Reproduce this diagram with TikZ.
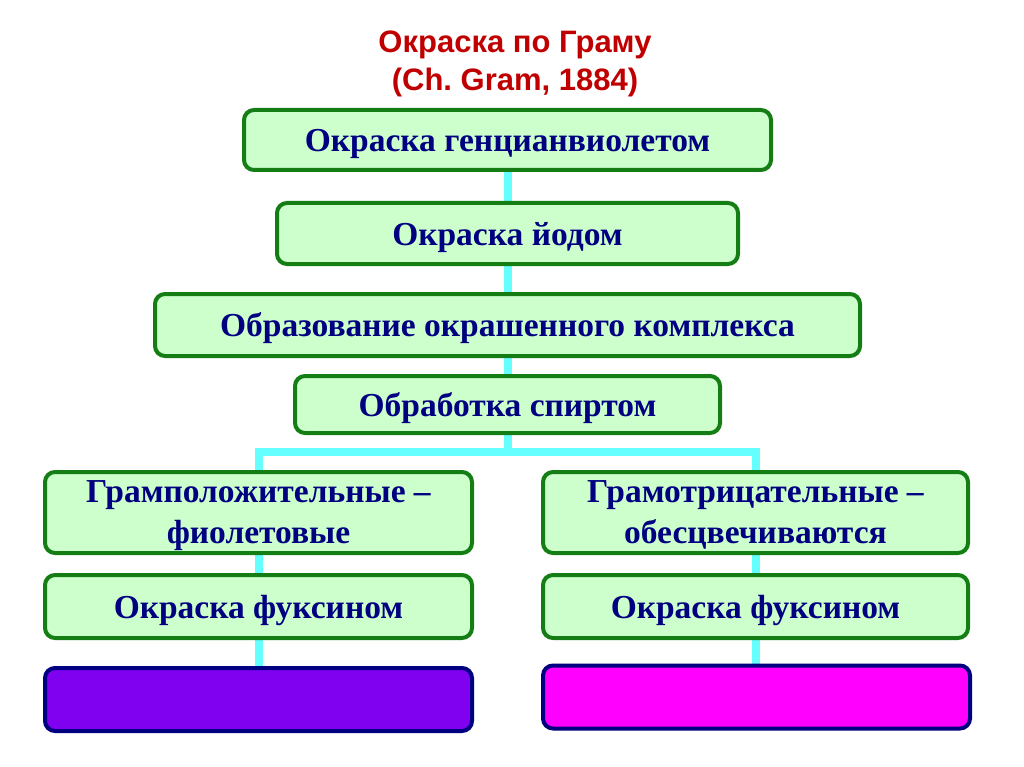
\documentclass[tikz,border=0pt]{standalone}
\usepackage{fontspec}
\setmainfont{Liberation Serif}
\newfontfamily\titlefont{Liberation Sans}
\usetikzlibrary{positioning,backgrounds}
\frenchspacing
\definecolor{boxgreen}{RGB}{20,125,20}
\definecolor{boxfill}{RGB}{204,255,204}
\definecolor{textnavy}{RGB}{0,0,128}
\definecolor{titlered}{RGB}{192,0,0}
\definecolor{linkcyan}{RGB}{102,255,255}
\definecolor{violetfill}{RGB}{128,0,240}
\definecolor{magentafill}{RGB}{255,0,255}
\tikzset{
  stage/.style={draw=boxgreen,line width=4pt,fill=boxfill,rounded corners=10pt,
    text=textnavy,font=\fontsize{33.5}{41}\selectfont\bfseries,align=center,
    inner sep=0pt,text depth=0pt},
  result/.style={draw=textnavy,line width=4pt,rounded corners=10pt,inner sep=0pt,
    minimum width=427pt,minimum height=63pt},
  link/.style={linkcyan,line width=8pt}
}
\begin{document}
\begin{tikzpicture}[x=1pt,y=-1pt]
    \useasboundingbox (0,0) rectangle (1024,767);

    % Title
    \node[titlered,font=\titlefont\fontsize{31}{38}\selectfont\bfseries,align=center] (title) at (515,64)
        {Окраска по Граму\\(Ch. Gram, 1884)};

    % Main sequence
    \node[stage,minimum width=527pt,minimum height=60pt] (violet) at (507.5,140) {Окраска генцианвиолетом};
    \node[stage,minimum width=461pt,minimum height=61pt] (iodine) at (507.5,233.5) {Окраска йодом};
    \node[stage,minimum width=705pt,minimum height=62pt] (complex) at (507.5,325) {Образование окрашенного комплекса};
    \node[stage,minimum width=425pt,minimum height=57pt] (alcohol) at (507.5,404.5) {Обработка спиртом};

    % Two branches
    \node[stage,text depth=-6pt,minimum width=427pt,minimum height=81pt] (pos) at (258.5,512.5) {Грамположительные --\\фиолетовые};
    \node[stage,text depth=-6pt,minimum width=425pt,minimum height=81pt] (neg) at (755.5,512.5) {Грамотрицательные --\\обесцвечиваются};
    \node[stage,minimum width=427pt,minimum height=63pt] (fuchsinpos) at (258.5,606.5) {Окраска фуксином};
    \node[stage,minimum width=425pt,minimum height=63pt] (fuchsinneg) at (755.5,606.5) {Окраска фуксином};

    % Resulting colours
    \node[result,fill=violetfill] (violetres) at (258.5,699.5) {};
    \node[result,fill=magentafill] (magentares) at (756.5,697) {};

    % Connectors behind the boxes
    \coordinate (fork) at (507.5,452);
    \begin{scope}[on background layer]
        \draw[link] (violet.south) -- (iodine.north);
        \draw[link] (iodine.south) -- (complex.north);
        \draw[link] (complex.south) -- (alcohol.north);
        \draw[link] (alcohol.south) -- (fork);
        \draw[link] (pos.north) |- (fork) -| (neg.north);
        \draw[link] (pos.south) -- (fuchsinpos.north);
        \draw[link] (fuchsinpos.south) -- (violetres.north);
        \draw[link] (neg.south) -- (fuchsinneg.north);
        \draw[link] (fuchsinneg.south) -- (fuchsinneg.south |- magentares.north);
    \end{scope}
\end{tikzpicture}
\end{document}
